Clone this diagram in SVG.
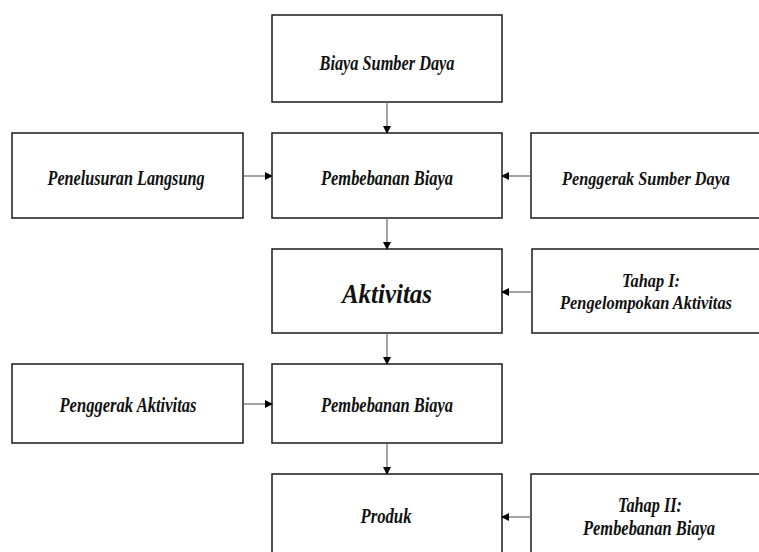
<svg xmlns="http://www.w3.org/2000/svg" width="759" height="552" viewBox="0 0 759 552">
<style>
.box{fill:#fff;stroke:#1a1a1a;stroke-width:1.5}
.t{font-family:"Liberation Serif","Times New Roman",serif;font-style:italic;font-weight:bold;font-size:21px;fill:#111;text-anchor:middle}
.big{font-size:28px}
.sm{font-size:19px}
.c{stroke:#666;stroke-width:1.2;fill:none;marker-end:url(#ah)}
</style>
<defs>
<marker id="ah" markerWidth="8" markerHeight="8" refX="7" refY="4" orient="auto" markerUnits="userSpaceOnUse">
<path d="M0,0 L8,4 L0,8 Z" fill="#000"/>
</marker>
</defs>
<rect width="759" height="552" fill="#fff"/>
<g id="n1"><rect class="box" x="272" y="15" width="230" height="87"/><text class="t" x="387" y="70" textLength="135" lengthAdjust="spacingAndGlyphs">Biaya Sumber Daya</text></g>
<g id="n2"><rect class="box" x="12" y="133" width="231" height="85"/><text class="t" x="126" y="185" textLength="157" lengthAdjust="spacingAndGlyphs">Penelusuran Langsung</text></g>
<g id="n3"><rect class="box" x="272" y="133" width="230" height="85"/><text class="t" x="387" y="185" textLength="132" lengthAdjust="spacingAndGlyphs">Pembebanan Biaya</text></g>
<g id="n4"><rect class="box" x="531" y="133" width="230" height="85"/><text class="t sm" x="646" y="185" textLength="168" lengthAdjust="spacingAndGlyphs">Penggerak Sumber Daya</text></g>
<g id="n5"><rect class="box" x="272" y="249" width="230" height="84"/><text class="t big" x="387" y="303" textLength="90" lengthAdjust="spacingAndGlyphs">Aktivitas</text></g>
<g id="n6"><rect class="box" x="532" y="249" width="230" height="84"/><text class="t sm" x="651" y="287" textLength="58" lengthAdjust="spacingAndGlyphs">Tahap I:</text><text class="t sm" x="646" y="309" textLength="172" lengthAdjust="spacingAndGlyphs">Pengelompokan Aktivitas</text></g>
<g id="n7"><rect class="box" x="12" y="364" width="231" height="79"/><text class="t" x="128" y="412" textLength="137" lengthAdjust="spacingAndGlyphs">Penggerak Aktivitas</text></g>
<g id="n8"><rect class="box" x="272" y="364" width="230" height="79"/><text class="t" x="387" y="412" textLength="132" lengthAdjust="spacingAndGlyphs">Pembebanan Biaya</text></g>
<g id="n9"><rect class="box" x="272" y="474" width="230" height="90"/><text class="t" x="386" y="523" textLength="51" lengthAdjust="spacingAndGlyphs">Produk</text></g>
<g id="n10"><rect class="box" x="531" y="474" width="230" height="90"/><text class="t" x="650" y="512" textLength="64" lengthAdjust="spacingAndGlyphs">Tahap II:</text><text class="t" x="649" y="535" textLength="132" lengthAdjust="spacingAndGlyphs">Pembebanan Biaya</text></g>
<g id="connectors">
<line class="c" x1="387" y1="102" x2="387" y2="133"/>
<line class="c" x1="243" y1="176" x2="272" y2="176"/>
<line class="c" x1="531" y1="176" x2="502" y2="176"/>
<line class="c" x1="387" y1="218" x2="387" y2="249"/>
<line class="c" x1="532" y1="292" x2="502" y2="292"/>
<line class="c" x1="387" y1="333" x2="387" y2="364"/>
<line class="c" x1="243" y1="404" x2="272" y2="404"/>
<line class="c" x1="387" y1="443" x2="387" y2="474"/>
<line class="c" x1="531" y1="517" x2="502" y2="517"/>
</g>
</svg>
